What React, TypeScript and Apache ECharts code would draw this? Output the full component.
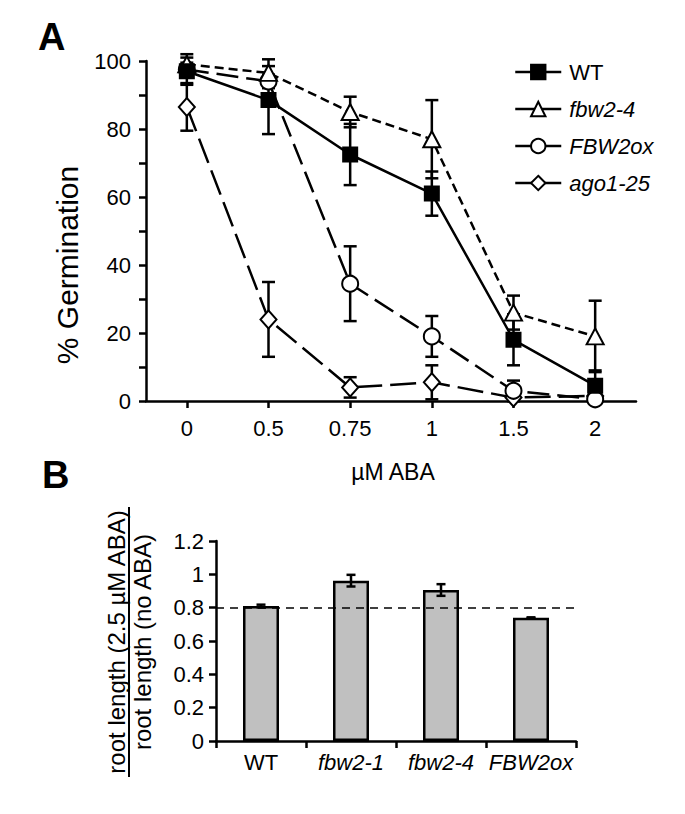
import React, { useEffect, useRef } from 'react';
import * as echarts from 'echarts';

// Panel A: germination (%) vs ABA dose
const doses = ['0', '0.5', '0.75', '1', '1.5', '2'];
const wt = [97, 88.5, 72.5, 61, 18, 4.5];
const wtErr = [4, 10, 9, 6.5, 7.5, 4.5];
const fbw24 = [99, 96.5, 85, 77, 26, 19];
const fbw24Err = [3, 4, 4.5, 11.5, 5, 10.5];
const fbw2ox = [97.5, 94, 34.5, 19, 3, 0.5];
const fbw2oxErr = [2, 2, 11, 6, 3, 1];
const ago125 = [86.5, 24, 4, 5.5, 1, 1.5];
const ago125Err = [7, 11, 3, 5, 1, 1];
const yTicksA = [0, 20, 40, 60, 80, 100];

// Panel B: relative root length
const genotypes = ['WT', 'fbw2-1', 'fbw2-4', 'FBW2ox'];
const ratio = [0.81, 0.962, 0.906, 0.739];
const ratioErr = [0.008, 0.035, 0.035, 0.003];
const refLine = 0.8;

const FONT = '"Liberation Sans", Arial, Helvetica, sans-serif';

function errData(vals: number[], errs: number[]) {
  return vals.map((v, i) => [i, Math.max(0, v - errs[i]), v + errs[i]]);
}

function errRender(capHalf: number, lw: number) {
  return (params: any, api: any) => {
    const x = api.value(0);
    const lo = api.value(1);
    const hi = api.value(2);
    const p1 = api.coord([x, hi]);
    const p2 = api.coord([x, lo]);
    const style = { stroke: '#000', lineWidth: lw, fill: 'none' };
    return {
      type: 'group',
      children: [
        { type: 'line', shape: { x1: p1[0], y1: p1[1], x2: p2[0], y2: p2[1] }, style },
        { type: 'line', shape: { x1: p1[0] - capHalf, y1: p1[1], x2: p1[0] + capHalf, y2: p1[1] }, style },
        { type: 'line', shape: { x1: p2[0] - capHalf, y1: p2[1], x2: p2[0] + capHalf, y2: p2[1] }, style },
      ],
    };
  };
}

export default function App() {
  const ref = useRef<HTMLDivElement>(null);
  useEffect(() => {
    if (!ref.current) return;
    const chart = echarts.init(ref.current, undefined, { renderer: 'svg' });
    const axisLine = { show: true, lineStyle: { color: '#000', width: 2.5 } };
    const axisTick = { show: true, length: 7, lineStyle: { color: '#000', width: 2.5 } };
    const labelStyle = { color: '#000', fontSize: 22, fontFamily: FONT };
    const italicFmt = (name: string) => (name === 'WT' ? name : `{i|${name}}`);

    const lineSeries = (name: string, data: number[], symbol: string, size: any, fill: string, dash: any) => ({
      type: 'line',
      name,
      data,
      xAxisIndex: 0,
      yAxisIndex: 0,
      symbol,
      symbolSize: size,
      showAllSymbol: true,
      z: 5,
      lineStyle: { color: '#000', width: 2.5, type: dash },
      itemStyle: { color: fill, borderColor: '#000', borderWidth: 2 },
      emphasis: { disabled: true },
    });
    const errSeries = (vals: number[], errs: number[]) => ({
      type: 'custom',
      xAxisIndex: 0,
      yAxisIndex: 0,
      z: 3,
      silent: true,
      renderItem: errRender(6.5, 2.5),
      encode: { x: 0, y: [1, 2] },
      data: errData(vals, errs),
    });

    chart.setOption({
      animation: false,
      textStyle: { fontFamily: FONT },
      grid: [
        { left: 146, top: 61, width: 490, height: 340 },
        { left: 216, top: 541, width: 360, height: 200 },
      ],
      legend: {
        orient: 'vertical',
        left: 509,
        top: 56,
        itemWidth: 46,
        itemHeight: 18,
        itemGap: 15,
        data: ['WT', 'fbw2-4', 'FBW2ox', 'ago1-25'],
        formatter: italicFmt,
        lineStyle: { type: 'solid', width: 2.5, color: '#000' },
        textStyle: {
          color: '#000',
          fontSize: 22,
          fontFamily: FONT,
          padding: [0, 0, 0, 3],
          rich: { i: { fontStyle: 'italic', fontSize: 22, fontFamily: FONT, color: '#000' } },
        },
        selectedMode: false,
      },
      xAxis: [
        {
          gridIndex: 0,
          type: 'category',
          data: doses,
          boundaryGap: true,
          axisLine,
          axisTick: { ...axisTick, alignWithLabel: true },
          axisLabel: { ...labelStyle, margin: 16, interval: 0 },
          splitLine: { show: false },
        },
        {
          gridIndex: 1,
          type: 'category',
          data: genotypes,
          axisLine,
          axisTick,
          axisLabel: {
            ...labelStyle,
            margin: 10,
            interval: 0,
            hideOverlap: false,
            formatter: italicFmt,
            rich: { i: { fontStyle: 'italic', fontSize: 22, fontFamily: FONT, color: '#000' } },
          },
          splitLine: { show: false },
        },
      ],
      yAxis: [
        {
          gridIndex: 0,
          type: 'value',
          min: 0,
          max: 100,
          interval: 10,
          axisLine,
          axisTick,
          axisLabel: {
            ...labelStyle,
            margin: 15,
            formatter: (v: number) => (yTicksA.includes(v) ? String(v) : ''),
          },
          splitLine: { show: false },
        },
        {
          gridIndex: 1,
          type: 'value',
          min: 0,
          max: 1.2,
          interval: 0.2,
          axisLine,
          axisTick,
          axisLabel: { ...labelStyle, margin: 12 },
          splitLine: { show: false },
        },
      ],
      series: [
        errSeries(wt, wtErr),
        errSeries(fbw24, fbw24Err),
        errSeries(fbw2ox, fbw2oxErr),
        errSeries(ago125, ago125Err),
        lineSeries('ago1-25', ago125, 'diamond', [16, 18], '#fff', [26, 8]),
        lineSeries('FBW2ox', fbw2ox, 'circle', 16, '#fff', [22, 8]),
        lineSeries('fbw2-4', fbw24, 'triangle', [17, 16], '#fff', [9, 5]),
        lineSeries('WT', wt, 'rect', 14, '#000', 'solid'),
        {
          type: 'bar',
          name: 'ratio',
          xAxisIndex: 1,
          yAxisIndex: 1,
          data: ratio,
          barWidth: 36,
          z: 2,
          itemStyle: { color: '#c0c0c0', borderColor: '#000', borderWidth: 2.5 },
          emphasis: { disabled: true },
          markLine: {
            silent: true,
            symbol: 'none',
            label: { show: false },
            lineStyle: { color: '#000', width: 1.5, type: [8, 6] },
            data: [{ yAxis: refLine }],
          },
        },
        {
          type: 'custom',
          xAxisIndex: 1,
          yAxisIndex: 1,
          z: 4,
          silent: true,
          renderItem: errRender(4.5, 2.5),
          encode: { x: 0, y: [1, 2] },
          data: errData(ratio, ratioErr),
        },
      ],
      graphic: [
        { type: 'text', left: 38, top: 18, style: { text: 'A', font: `bold 38px ${FONT}`, fill: '#000' } },
        { type: 'text', left: 42, top: 456, style: { text: 'B', font: `bold 38px ${FONT}`, fill: '#000' } },
        {
          type: 'text',
          x: 67,
          y: 265,
          rotation: Math.PI / 2,
          style: { text: '% Germination', font: `30px ${FONT}`, fill: '#000', align: 'center', verticalAlign: 'middle' },
        },
        {
          type: 'text',
          x: 393,
          y: 472,
          style: { text: 'µM ABA', font: `23px ${FONT}`, fill: '#000', align: 'center', verticalAlign: 'middle' },
        },
        {
          type: 'text',
          x: 116,
          y: 642,
          rotation: Math.PI / 2,
          style: { text: 'root length (2.5 µM ABA)', font: `24px ${FONT}`, fill: '#000', align: 'center', verticalAlign: 'middle' },
        },
        {
          type: 'line',
          shape: { x1: 129, y1: 507, x2: 129, y2: 777 },
          style: { stroke: '#000', lineWidth: 2 },
        },
        {
          type: 'text',
          x: 142,
          y: 642,
          rotation: Math.PI / 2,
          style: { text: 'root length (no ABA)', font: `24px ${FONT}`, fill: '#000', align: 'center', verticalAlign: 'middle' },
        },
      ],
    });
    return () => chart.dispose();
  }, []);
  return <div ref={ref} style={{ position: 'fixed', left: 0, top: 0, width: 685, height: 814, background: '#fff' }} />;
}
